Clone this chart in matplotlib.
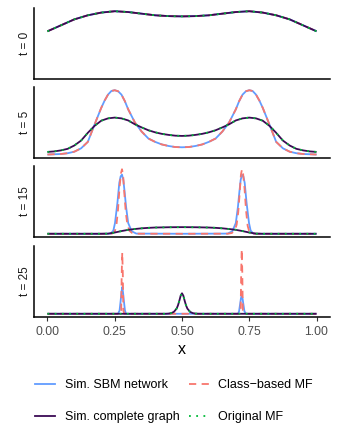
import matplotlib
matplotlib.use("Agg")
import matplotlib.pyplot as plt
from matplotlib.lines import Line2D

plt.rcParams['font.family'] = ['Liberation Sans', 'DejaVu Sans']

# ---------------- data ----------------
time_labels = ["t = 0", "t = 5", "t = 15", "t = 25"]
series_names = ["Sim. SBM network", "Class\u2212based MF", "Sim. complete graph", "Original MF"]
x_ticks = [0.00, 0.25, 0.50, 0.75, 1.00]
x_tick_labels = ["0.00", "0.25", "0.50", "0.75", "1.00"]

# t = 0 (all four curves coincide)
x_t0 = [0.00, 0.05, 0.10, 0.15, 0.20, 0.25, 0.30, 0.35, 0.40, 0.45, 0.50,
        0.55, 0.60, 0.65, 0.70, 0.75, 0.80, 0.85, 0.90, 0.95, 1.00]
sbm_t0 = [0.82, 0.93, 1.04, 1.115, 1.165, 1.19, 1.175, 1.145, 1.115, 1.10, 1.095,
          1.10, 1.115, 1.145, 1.175, 1.19, 1.165, 1.115, 1.04, 0.93, 0.82]
class_t0 = [0.82, 0.93, 1.04, 1.115, 1.165, 1.19, 1.175, 1.145, 1.115, 1.10, 1.095,
            1.10, 1.115, 1.145, 1.175, 1.19, 1.165, 1.115, 1.04, 0.93, 0.82]
complete_t0 = [0.82, 0.93, 1.04, 1.115, 1.165, 1.19, 1.175, 1.145, 1.115, 1.10, 1.095,
               1.10, 1.115, 1.145, 1.175, 1.19, 1.165, 1.115, 1.04, 0.93, 0.82]
orig_t0 = [0.82, 0.93, 1.04, 1.115, 1.165, 1.19, 1.175, 1.145, 1.115, 1.10, 1.095,
           1.10, 1.115, 1.145, 1.175, 1.19, 1.165, 1.115, 1.04, 0.93, 0.82]

# t = 5
x_t5_sbm = [0.000, 0.025, 0.050, 0.075, 0.100, 0.125, 0.150, 0.175, 0.200, 0.2125, 0.225,
            0.2375, 0.250, 0.2625, 0.275, 0.2875, 0.300, 0.325, 0.350, 0.375, 0.400,
            0.425, 0.450, 0.475, 0.500, 0.525, 0.550, 0.575, 0.600, 0.625, 0.650,
            0.675, 0.700, 0.7125, 0.725, 0.7375, 0.750, 0.7625, 0.775, 0.7875, 0.800,
            0.825, 0.850, 0.875, 0.900, 0.925, 0.950, 0.975, 1.000]
sbm_t5 = [0.01, 0.02, 0.03, 0.06, 0.12, 0.25, 0.50, 1.17, 1.82, 2.10, 2.33,
          2.47, 2.50, 2.46, 2.33, 2.08, 1.76, 1.25, 0.90, 0.63, 0.50,
          0.40, 0.34, 0.30, 0.29, 0.30, 0.34, 0.40, 0.50, 0.63, 0.90,
          1.25, 1.76, 2.08, 2.33, 2.46, 2.50, 2.47, 2.33, 2.10, 1.82,
          1.17, 0.50, 0.25, 0.12, 0.06, 0.03, 0.02, 0.01]
class_t5 = [0.01, 0.02, 0.03, 0.06, 0.12, 0.25, 0.50, 1.17, 1.82, 2.10, 2.33,
            2.47, 2.50, 2.46, 2.33, 2.08, 1.76, 1.25, 0.90, 0.63, 0.50,
            0.40, 0.34, 0.30, 0.29, 0.30, 0.34, 0.40, 0.50, 0.63, 0.90,
            1.25, 1.76, 2.08, 2.33, 2.46, 2.50, 2.47, 2.33, 2.10, 1.82,
            1.17, 0.50, 0.25, 0.12, 0.06, 0.03, 0.02, 0.01]
x_t5_mf = [0.000, 0.025, 0.050, 0.075, 0.100, 0.125, 0.150, 0.175, 0.200, 0.225, 0.250,
           0.275, 0.300, 0.325, 0.350, 0.375, 0.400, 0.425, 0.450, 0.475, 0.500,
           0.525, 0.550, 0.575, 0.600, 0.625, 0.650, 0.675, 0.700, 0.725, 0.750,
           0.775, 0.800, 0.825, 0.850, 0.875, 0.900, 0.925, 0.950, 0.975, 1.000]
complete_t5 = [0.11, 0.13, 0.17, 0.23, 0.36, 0.55, 0.85, 1.12, 1.32, 1.41, 1.44,
               1.41, 1.33, 1.18, 1.06, 0.95, 0.87, 0.81, 0.77, 0.74, 0.73,
               0.74, 0.77, 0.81, 0.87, 0.95, 1.06, 1.18, 1.33, 1.41, 1.44,
               1.41, 1.32, 1.12, 0.85, 0.55, 0.36, 0.23, 0.17, 0.13, 0.11]
orig_t5 = [0.11, 0.13, 0.17, 0.23, 0.36, 0.55, 0.85, 1.12, 1.32, 1.41, 1.44,
           1.41, 1.33, 1.18, 1.06, 0.95, 0.87, 0.81, 0.77, 0.74, 0.73,
           0.74, 0.77, 0.81, 0.87, 0.95, 1.06, 1.18, 1.33, 1.41, 1.44,
           1.41, 1.32, 1.12, 0.85, 0.55, 0.36, 0.23, 0.17, 0.13, 0.11]

# t = 15
x_sbm_t15 = [0.000, 0.200, 0.235, 0.245, 0.251, 0.260, 0.267, 0.272, 0.277, 0.282, 0.287,
             0.292, 0.300, 0.313, 0.330, 0.500, 0.670, 0.687, 0.700, 0.708, 0.713,
             0.718, 0.723, 0.728, 0.733, 0.740, 0.749, 0.755, 0.765, 0.800, 1.000]
sbm_t15 = [0.0, 0.0, 0.05, 0.9, 3.0, 8.6, 14.2, 16.0, 16.5, 15.0, 11.5,
           7.6, 3.0, 0.7, 0.05, 0.0, 0.05, 0.7, 3.0, 7.6, 11.5,
           15.0, 16.5, 16.0, 14.2, 8.6, 3.0, 0.9, 0.05, 0.0, 0.0]
x_class_t15 = [0.000, 0.200, 0.240, 0.250, 0.256, 0.262, 0.268, 0.273, 0.277, 0.281, 0.286,
               0.291, 0.297, 0.305, 0.315, 0.330, 0.500, 0.670, 0.685, 0.695, 0.703,
               0.709, 0.714, 0.719, 0.723, 0.727, 0.732, 0.738, 0.744, 0.750, 0.760, 0.800, 1.000]
class_t15 = [0.0, 0.0, 0.05, 0.6, 2.2, 6.5, 13.0, 16.8, 18.0, 16.5, 11.0,
             6.0, 2.5, 0.8, 0.2, 0.02, 0.0, 0.02, 0.2, 0.8, 2.5,
             6.0, 11.0, 16.5, 18.0, 16.8, 13.0, 6.5, 2.2, 0.6, 0.05, 0.0, 0.0]
x_complete_t15 = [0.000, 0.150, 0.200, 0.225, 0.250, 0.275, 0.300, 0.325, 0.350, 0.375,
                  0.400, 0.450, 0.500, 0.550, 0.600, 0.625, 0.650, 0.675, 0.700, 0.725,
                  0.750, 0.775, 0.800, 0.850, 1.000]
complete_t15 = [0.0, 0.0, 0.0, 0.03, 0.35, 0.75, 1.10, 1.33, 1.52, 1.65,
                1.74, 1.82, 1.85, 1.82, 1.74, 1.65, 1.52, 1.33, 1.10, 0.75,
                0.35, 0.03, 0.0, 0.0, 0.0]
orig_t15 = [0.0, 0.0, 0.0, 0.03, 0.35, 0.75, 1.10, 1.33, 1.52, 1.65,
            1.74, 1.82, 1.85, 1.82, 1.74, 1.65, 1.52, 1.33, 1.10, 0.75,
            0.35, 0.03, 0.0, 0.0, 0.0]

# t = 25
x_sbm_t25 = [0.000, 0.262, 0.268, 0.272, 0.275, 0.278, 0.281, 0.284, 0.288, 0.292, 0.500,
             0.708, 0.712, 0.716, 0.719, 0.722, 0.725, 0.728, 0.732, 0.738, 1.000]
sbm_t25 = [0.0, 0.0, 2.0, 8.0, 13.0, 16.6, 13.0, 8.0, 2.0, 0.0, 0.0,
           0.0, 1.5, 6.0, 9.5, 11.6, 9.5, 6.0, 1.5, 0.0, 0.0]
x_class_t25 = [0.000, 0.270, 0.274, 0.276, 0.278, 0.280, 0.282, 0.286, 0.500,
               0.714, 0.718, 0.720, 0.722, 0.724, 0.726, 0.730, 1.000]
class_t25 = [0.0, 0.0, 2.0, 25.0, 38.0, 25.0, 2.0, 0.0, 0.0,
             0.0, 2.0, 26.0, 40.0, 26.0, 2.0, 0.0, 0.0]
x_complete_t25 = [0.000, 0.440, 0.450, 0.460, 0.470, 0.480, 0.485, 0.490, 0.495, 0.500,
                  0.505, 0.510, 0.515, 0.520, 0.530, 0.540, 0.550, 0.560, 1.000]
complete_t25 = [0.0, 0.0, 0.1, 0.4, 1.2, 3.2, 5.2, 8.0, 11.2, 12.7,
                11.2, 8.0, 5.2, 3.2, 1.2, 0.4, 0.1, 0.0, 0.0]
orig_t25 = [0.0, 0.0, 0.1, 0.4, 1.2, 3.2, 5.2, 8.0, 11.2, 12.7,
            11.2, 8.0, 5.2, 3.2, 1.2, 0.4, 0.1, 0.0, 0.0]

panels = [
    [(x_t0, sbm_t0), (x_t0, class_t0), (x_t0, complete_t0), (x_t0, orig_t0)],
    [(x_t5_sbm, sbm_t5), (x_t5_sbm, class_t5), (x_t5_mf, complete_t5), (x_t5_mf, orig_t5)],
    [(x_sbm_t15, sbm_t15), (x_class_t15, class_t15), (x_complete_t15, complete_t15), (x_complete_t15, orig_t15)],
    [(x_sbm_t25, sbm_t25), (x_class_t25, class_t25), (x_complete_t25, complete_t25), (x_complete_t25, orig_t25)],
]

# ---------------- styles ----------------
colors = ["#619CFF", "#F8766D", "#3B0A55", "#00BA38"]
styles = [dict(ls="-"), dict(ls=(0, (4, 3))), dict(ls="-"), dict(ls=(0, (1, 3)))]
lw = 1.3

W, H = 339, 434
fig = plt.figure(figsize=(W / 100, H / 100), dpi=100)

left, right = 34, 330
panel_px = [(8, 79), (87, 158), (166, 237), (246, 317)]

axes = []
for i, (top, bot) in enumerate(panel_px):
    ax = fig.add_axes([left / W, (H - bot) / H, (right - left) / W, (bot - top) / H])
    axes.append(ax)
    ymax = 0.0
    for k, (xs, ys) in enumerate(panels[i]):
        ax.plot(xs, ys, color=colors[k], lw=lw, solid_capstyle="butt",
                dash_capstyle="butt", **styles[k])
        ymax = max(ymax, max(ys))
    ax.set_xlim(-0.05, 1.05)
    ax.set_ylim(-0.05 * ymax, 1.05 * ymax)
    for s in ["top", "right"]:
        ax.spines[s].set_visible(False)
    for s in ["left", "bottom"]:
        ax.spines[s].set_linewidth(1.1)
        ax.spines[s].set_color("black")
    ax.set_yticks([])
    ax.set_ylabel(time_labels[i], fontsize=8.5, color="#1A1A1A", labelpad=2)
    if i < 3:
        ax.set_xticks([])
    else:
        ax.set_xticks(x_ticks)
        ax.set_xticklabels(x_tick_labels, fontsize=8.8, color="#4D4D4D")
        ax.tick_params(axis="x", length=3, width=0.8, color="#333333", pad=3.5)
        ax.set_xlabel("x", fontsize=11.5, labelpad=3)

handles = [Line2D([], [], color=colors[k], lw=lw, **styles[k]) for k in range(4)]
order = [0, 2, 1, 3]
fig.legend([handles[k] for k in order], [series_names[k] for k in order],
           ncol=2, loc="upper left", bbox_to_anchor=(35 / W, (H - 379) / H),
           frameon=False, fontsize=9, handlelength=1.6, handletextpad=0.8,
           columnspacing=0.7, labelspacing=1.6, borderpad=0, borderaxespad=0)

fig.savefig("out.png", dpi=100)
